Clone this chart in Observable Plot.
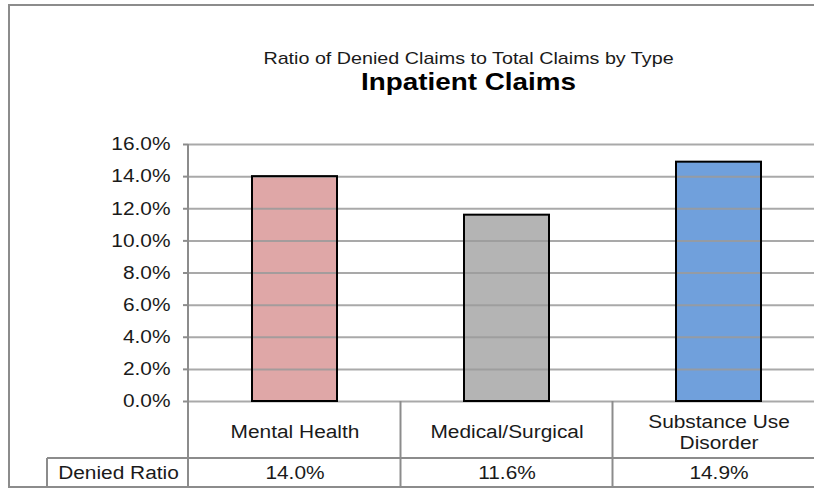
<!DOCTYPE html>
<html>
<head>
<meta charset="utf-8">
<script src="https://cdn.jsdelivr.net/npm/d3@7"></script>
<script src="https://cdn.jsdelivr.net/npm/@observablehq/plot@0.6"></script>
<style>
  html, body { margin: 0; padding: 0; background: #fff; overflow: hidden; }
</style>
</head>
<body>
<div id="chart"></div>
<script>
const categories = ["Mental Health", "Medical/Surgical", "Substance Use\nDisorder"];
const values = [14.0, 11.6, 14.9];
const colors = ["#dfa7a7", "#b4b4b4", "#70a0dc"];
const yTicks = [0, 2, 4, 6, 8, 10, 12, 14, 16];
const subtitle = "Ratio of Denied Claims to Total Claims by Type";
const title = "Inpatient Claims";
const rowLabel = "Denied Ratio";

const data = categories.map((c, i) => ({cat: c, value: values[i]}));
const pct = d => d.toFixed(1) + "%";
const FONT = "'Liberation Sans', Arial, sans-serif";
const W = 814, H = 489, ML = 188, MT = 144, MB = 88;
const GRID = "#9a9a9a", LINE = "#8c8c8c", TXT = "#1a1a1a";
const STRETCH = 1.16; // the reference typeface is rendered horizontally widened

const plot = Plot.plot({
  width: W, height: H,
  marginLeft: ML, marginRight: 0, marginTop: MT, marginBottom: MB,
  style: {fontFamily: FONT, background: "#fff", color: TXT, overflow: "visible"},
  x: {domain: categories, range: [188.5, 824.5], paddingInner: 0.6, paddingOuter: 0.3, axis: null},
  y: {domain: [0, 16], axis: null},
  color: {domain: categories, range: colors},
  marks: [
    Plot.barY(data, {x: "cat", y: "value", fill: "cat"}),
    Plot.ruleY(yTicks, {stroke: GRID, strokeWidth: 2, strokeOpacity: 0.85}),
    Plot.barY(data, {x: "cat", y: "value", fill: "none", stroke: "#000", strokeWidth: 2}),
    Plot.axisY({ticks: yTicks, tickFormat: pct, label: null, tickSize: 5, tickPadding: 13, fontSize: 18, stroke: LINE, strokeWidth: 2, fill: TXT}),
    Plot.text(data, {x: "cat", text: "cat", frameAnchor: "bottom", dy: 30, lineAnchor: "middle", lineHeight: 1.17, fontSize: 18, fill: TXT}),
    Plot.text(data, {x: "cat", text: d => pct(d.value), frameAnchor: "bottom", dy: 72, lineAnchor: "middle", fontSize: 18, fill: TXT}),
    Plot.text([rowLabel], {text: d => d, frameAnchor: "bottom-left", dx: -70, dy: 72, textAnchor: "middle", lineAnchor: "middle", fontSize: 18, fill: TXT}),
    Plot.text([subtitle], {text: d => d, frameAnchor: "top", dx: -33, dy: -81, lineAnchor: "bottom", fontSize: 17, fill: TXT}),
    Plot.text([title], {text: d => d, frameAnchor: "top", dx: -33, dy: -55, lineAnchor: "bottom", fontSize: 24, fontWeight: "bold", fill: "#000"})
  ]
});

document.getElementById("chart").appendChild(plot);

// Widen every text horizontally about its own anchor point
d3.select(plot).selectAll("text").each(function() {
  const bb = this.getBBox();
  const anchor = getComputedStyle(this).textAnchor;
  const cx = anchor === "middle" ? bb.x + bb.width / 2 : anchor === "end" ? bb.x + bb.width : bb.x;
  const prev = this.getAttribute("transform") || "";
  this.setAttribute("transform", `${prev} translate(${cx},0) scale(${STRETCH},1) translate(${-cx},0)`.trim());
});

// Table grid and chart border drawn with the plot's own x scale
const svg = d3.select(plot);
const X = plot.scale("x");
const half = (X.step - X.bandwidth) / 2;
const edges = categories.map(c => X.apply(c) - half);
edges.push(X.apply(categories[categories.length - 1]) + X.bandwidth + half);
const y0 = H - MB;          // 0% baseline / top of table
const yRow = 458;           // data row top
const yBot = 487;           // bottom border
const g = svg.append("g").attr("stroke", LINE).attr("stroke-width", 2).attr("fill", "none");
// y-axis line down through the table
g.append("line").attr("x1", ML).attr("x2", ML).attr("y1", MT).attr("y2", yBot);
// category dividers
edges.slice(1).forEach(x => g.append("line").attr("x1", x).attr("x2", x).attr("y1", y0).attr("y2", yBot));
// data row top and label cell
g.append("line").attr("x1", 47).attr("x2", W).attr("y1", yRow).attr("y2", yRow);
g.append("line").attr("x1", 47).attr("x2", 47).attr("y1", yRow).attr("y2", yBot);
// outer chart border
g.append("rect").attr("x", 9).attr("y", 5).attr("width", W + 20).attr("height", yBot - 5);
</script>
</body>
</html>
